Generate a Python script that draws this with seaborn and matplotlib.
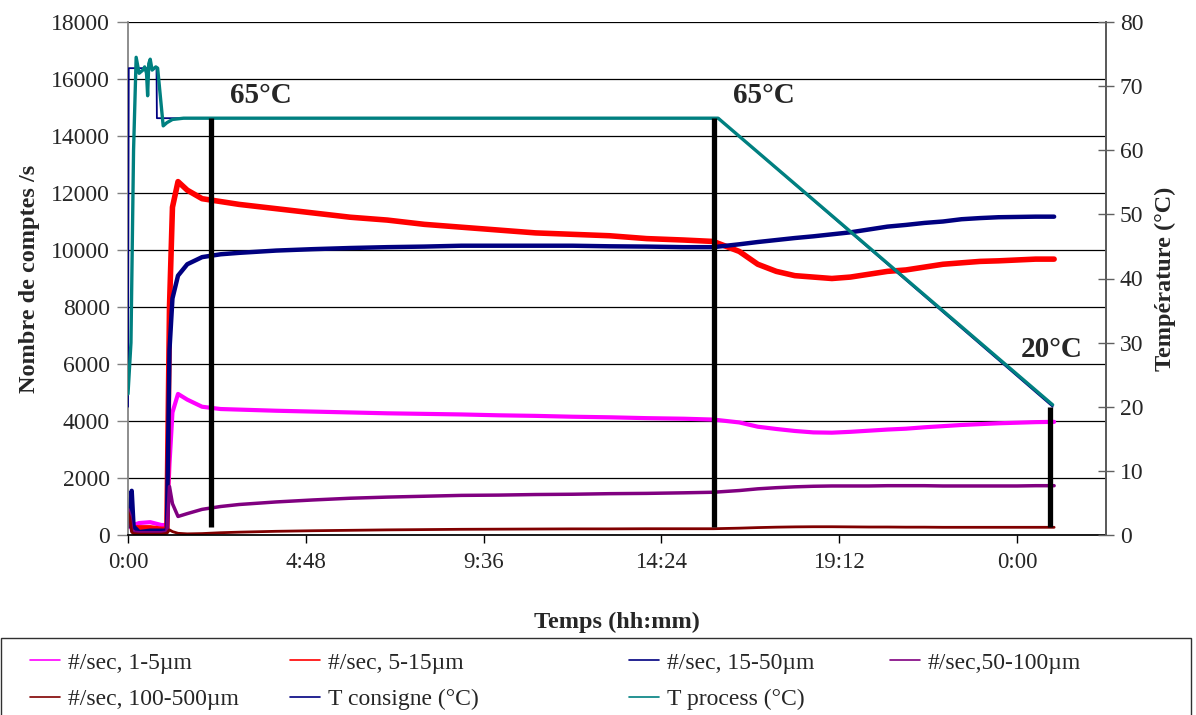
import matplotlib
matplotlib.use("Agg")
import numpy as np
import pandas as pd
import matplotlib.pyplot as plt
import seaborn as sns
from matplotlib.lines import Line2D
from matplotlib.patches import Rectangle
from matplotlib.ticker import FuncFormatter, MultipleLocator

sns.set_theme(style="white")
plt.rcParams.update({
    "font.family": ["Liberation Serif", "DejaVu Serif"],
    "font.size": 16,
    "axes.unicode_minus": False,
})

# --- data (time in hours) ---
hours = [0, 0.05, 0.1, 0.15, 0.3, 0.6, 0.9, 1.05, 1.12, 1.2,
         1.35, 1.6, 2.0, 2.5, 3, 4, 5, 6, 7, 8,
         9, 10, 11, 12, 13, 14, 15, 15.8, 16.5, 17,
         17.5, 18, 18.5, 19, 19.5, 20, 20.5, 21, 21.5, 22,
         22.5, 23, 23.5, 24, 24.5, 25]

c_1_5 = [400, 300, 250, 350, 420, 450, 350, 350, 2500, 4300,
         4950, 4750, 4500, 4420, 4400, 4360, 4330, 4300, 4270, 4250,
         4230, 4200, 4180, 4150, 4130, 4100, 4080, 4050, 3950, 3800,
         3720, 3650, 3600, 3590, 3620, 3660, 3700, 3730, 3780, 3820,
         3860, 3890, 3920, 3940, 3960, 3970]

c_5_15 = [600, 400, 300, 250, 250, 250, 200, 200, 8000, 11500,
          12400, 12100, 11800, 11700, 11600, 11450, 11300, 11150, 11050, 10900,
          10800, 10700, 10600, 10550, 10500, 10400, 10350, 10300, 9950, 9500,
          9250, 9100, 9050, 9000, 9050, 9150, 9250, 9300, 9400, 9500,
          9550, 9600, 9620, 9650, 9680, 9680]

c_15_50 = [300, 800, 1550, 300, 100, 150, 150, 150, 6500, 8300,
           9100, 9500, 9750, 9850, 9900, 9980, 10030, 10070, 10100, 10120,
           10150, 10150, 10150, 10150, 10130, 10120, 10100, 10100, 10200, 10280,
           10350, 10420, 10480, 10550, 10620, 10720, 10820, 10880, 10950, 11000,
           11080, 11120, 11150, 11160, 11170, 11170]

c_50_100 = [900, 700, 150, 100, 80, 80, 80, 100, 1700, 1100,
            650, 750, 900, 1000, 1070, 1160, 1230, 1290, 1330, 1360,
            1390, 1400, 1420, 1430, 1450, 1460, 1480, 1500, 1560, 1620,
            1660, 1690, 1710, 1720, 1720, 1720, 1730, 1730, 1730, 1720,
            1720, 1720, 1720, 1720, 1730, 1730]

c_100_500 = [800, 600, 100, 50, 30, 30, 30, 60, 180, 120,
             60, 40, 50, 80, 100, 130, 150, 165, 180, 190,
             200, 205, 210, 215, 215, 220, 220, 220, 240, 260,
             275, 285, 290, 290, 285, 280, 280, 275, 275, 270,
             270, 270, 270, 270, 270, 270]

consigne_hours = [0, 0.02, 0.77, 0.78, 15.93, 24.96]
consigne_temp = [20, 72.8, 72.8, 65, 65, 20]

process_hours = [0, 0.08, 0.15, 0.22, 0.3, 0.4, 0.45, 0.5, 0.53, 0.56,
                 0.6, 0.65, 0.75, 0.8, 0.88, 0.95, 1.05, 1.2, 1.5, 15.93, 24.96]
process_temp = [22, 30, 60, 74.5, 72, 72.5, 73, 72, 68.5, 73.5,
                74.2, 72.5, 73, 72.8, 68, 63.8, 64.3, 64.8, 65, 65, 20.3]

# vertical reference lines and their labels
mark_hours = [2.24, 15.82, 24.88]
mark_temps = [65, 65, 20]
mark_labels = ["65°C", "65°C", "20°C"]

count_series = [
    ("#/sec, 1-5µm", c_1_5, "#FF00FF", 3.0),
    ("#/sec, 5-15µm", c_5_15, "#FF0000", 4.0),
    ("#/sec, 15-50µm", c_15_50, "#000080", 3.2),
    ("#/sec,50-100µm", c_50_100, "#800080", 2.5),
    ("#/sec, 100-500µm", c_100_500, "#800000", 2.0),
]

fig = plt.figure(figsize=(11.96, 7.15), dpi=100)
ax = fig.add_axes([128 / 1196, 1 - 535 / 715, (1106 - 128) / 1196, 513 / 715])
ax2 = ax.twinx()

for name, vals, col, lw in count_series:
    df = pd.DataFrame({"t": hours, "v": vals})
    sns.lineplot(data=df, x="t", y="v", color=col, linewidth=lw, ax=ax,
                 estimator=None, sort=False)

df_c = pd.DataFrame({"t": consigne_hours, "v": consigne_temp})
sns.lineplot(data=df_c, x="t", y="v", color="#000080", linewidth=1.3, ax=ax2,
             estimator=None, sort=False)
df_p = pd.DataFrame({"t": process_hours, "v": process_temp})
sns.lineplot(data=df_p, x="t", y="v", color="#008080", linewidth=2.4, ax=ax2,
             estimator=None, sort=False)

ax2.vlines(mark_hours, 1.2, mark_temps, color="black", linewidth=3.8, zorder=10)
for h, T, lab in zip(mark_hours[:2], mark_temps[:2], mark_labels[:2]):
    ax2.text(h + 0.5, T + 1.5, lab, fontsize=21, fontweight="bold",
             ha="left", va="bottom")
ax2.text(mark_hours[2] + 0.05, mark_temps[2] + 9, mark_labels[2], fontsize=21,
         fontweight="bold", ha="center", va="center")

# axes
ax.set_xlim(0, 26.4)
ax.set_ylim(0, 18000)
ax2.set_ylim(0, 80)
ax.xaxis.set_major_locator(MultipleLocator(4.8))
ax.yaxis.set_major_locator(MultipleLocator(2000))
ax2.yaxis.set_major_locator(MultipleLocator(10))


def hhmm(x, pos):
    total = int(round(x * 60))
    return f"{(total // 60) % 24}:{total % 60:02d}"


ax.xaxis.set_major_formatter(FuncFormatter(hhmm))
ax.grid(axis="y", color="black", linewidth=0.9)
ax.grid(axis="x", visible=False)
ax2.grid(False)

for a in (ax, ax2):
    a.spines["top"].set_visible(False)
ax.spines["left"].set_color("#808080")
ax.spines["bottom"].set_color("black")
ax2.spines["right"].set_color("#606060")
ax2.spines["left"].set_visible(False)
ax2.spines["bottom"].set_visible(False)

ax.tick_params(axis="y", direction="out", length=8, width=1, color="#808080",
               labelsize=17, pad=5, left=True)
ax.tick_params(axis="x", direction="out", length=6, width=1, color="black",
               labelsize=16.5, pad=6, bottom=True)
ax2.tick_params(axis="y", direction="inout", length=12, width=1, color="#606060",
                labelsize=17, pad=4, right=True)

ax.set_xlabel("Temps (hh:mm)", fontsize=17.5, fontweight="bold", labelpad=28)
ax.set_ylabel("Nombre de comptes /s", fontsize=17.5, fontweight="bold", labelpad=8)
ax2.set_ylabel("Température (°C)", fontsize=17.5, fontweight="bold", labelpad=8)

# legend: four columns placed like the original, one shared frame
entries = [(n, c) for n, _, c, _ in count_series] + [
    ("T consigne (°C)", "#000080"), ("T process (°C)", "#008080")]
columns = [[0, 4], [1, 5], [2, 6], [3]]
col_x = [30, 290, 629, 890]
for xs, idx in zip(col_x, columns):
    hs = [Line2D([], [], color=entries[i][1], linewidth=1.2) for i in idx]
    ls = [entries[i][0] for i in idx]
    fig.legend(hs, ls, loc="upper left", bbox_to_anchor=(xs / 1196, 1 - 652 / 715),
               bbox_transform=fig.transFigure, frameon=False, borderpad=0,
               borderaxespad=0, fontsize=17, handlelength=1.25,
               handletextpad=0.35, labelspacing=0.65)
fig.patches.append(Rectangle((1 / 1196, -0.02), 1190 / 1196, 0.02 + 1 - 638 / 715,
                             transform=fig.transFigure, fill=False,
                             edgecolor="#303030", linewidth=1.0))

fig.savefig("out.png", dpi=100, facecolor="white")
